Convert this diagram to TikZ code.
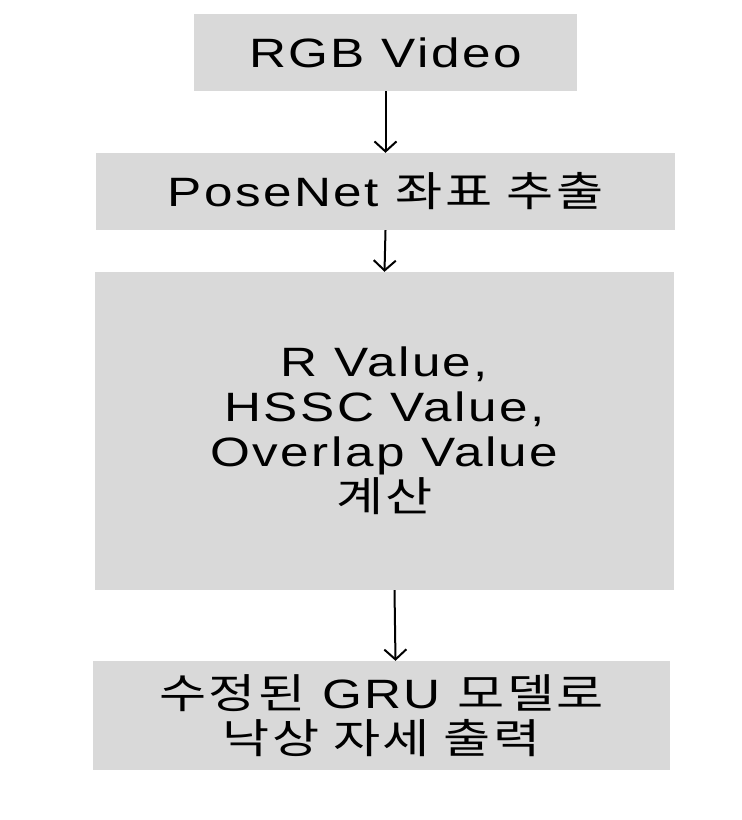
\documentclass[tikz,border=0pt]{standalone}
\usepackage{fontspec}
\setmainfont{Liberation Sans}[LetterSpace=6,FakeStretch=1.25]
\newfontfamily\kr{Noto Sans CJK KR}[LetterSpace=6,FakeStretch=1.25]
\usetikzlibrary{arrows.meta}
\definecolor{boxgray}{HTML}{D9D9D9}
\tikzset{
  stepbox/.style={fill=boxgray, draw=none, inner sep=0pt, align=center, font=\fontsize{41}{45}\selectfont},
  conn/.style={-{Straight Barb[length=10pt,width=22pt]}, line width=2pt}
}
\begin{document}
\begin{tikzpicture}[x=1pt,y=-1pt]
\useasboundingbox (0,0) rectangle (742,820);
\node[stepbox, minimum width=383pt, minimum height=77pt] (a) at (385.5,52.5) {RGB Video};
\node[stepbox, minimum width=579pt, minimum height=77pt] (b) at (385.5,191.5) {PoseNet {\kr 좌표 추출}};
\node[stepbox, minimum width=579pt, minimum height=318pt] (c) at (384.5,431) {R Value,\\HSSC Value,\\Overlap Value\\{\kr 계산}};
\node[stepbox, minimum width=577pt, minimum height=109pt] (d) at (381.5,715.5) {{\kr 수정된} GRU {\kr 모델로}\\{\kr 낙상 자세 출력}};
\draw[conn] (a.south) -- (b.north);
\draw[conn] (b.south) -- (c.north);
\draw[conn] ([xshift=10pt]c.south) -- ([xshift=14pt]d.north);
\end{tikzpicture}
\end{document}
